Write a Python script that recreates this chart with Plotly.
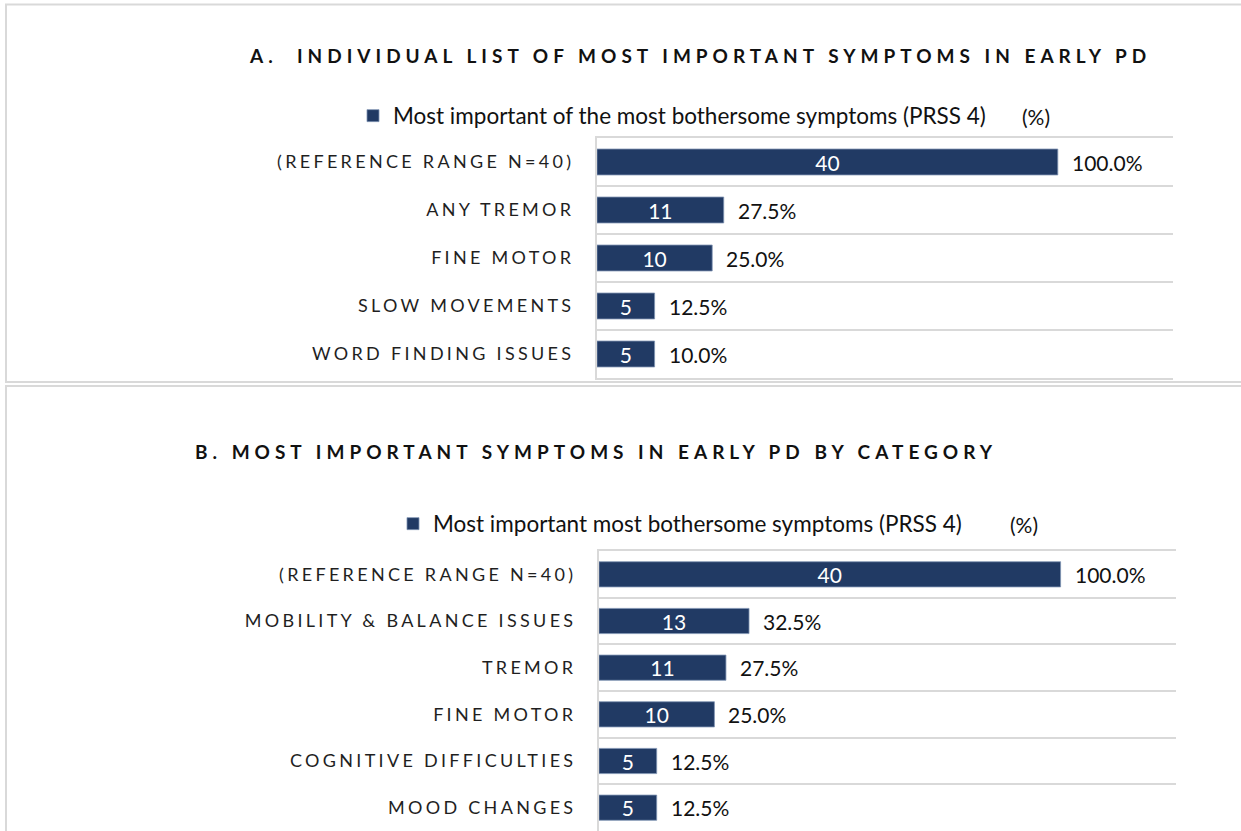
import plotly.graph_objects as go

# ---------- data ----------
cats_a = ["(REFERENCE RANGE N=40)", "ANY TREMOR", "FINE MOTOR", "SLOW MOVEMENTS", "WORD FINDING ISSUES"]
vals_a = [40, 11, 10, 5, 5]
pct_a = ["100.0%", "27.5%", "25.0%", "12.5%", "10.0%"]

cats_b = ["(REFERENCE RANGE N=40)", "MOBILITY & BALANCE ISSUES", "TREMOR", "FINE MOTOR",
          "COGNITIVE DIFFICULTIES", "MOOD CHANGES"]
vals_b = [40, 13, 11, 10, 5, 5]
pct_b = ["100.0%", "32.5%", "27.5%", "25.0%", "12.5%", "12.5%"]

title_a = "A.  INDIVIDUAL LIST OF MOST IMPORTANT SYMPTOMS IN EARLY PD"
title_b = "B. MOST IMPORTANT SYMPTOMS IN EARLY PD BY CATEGORY"
series_a = "Most important of the most bothersome symptoms (PRSS 4)"
series_b = "Most important most bothersome symptoms (PRSS 4)"

# ---------- style ----------
W, H = 1241, 831
NAVY = "#213A64"
GRID = "#d9d9d9"
FONT = "Lato"


def px_x(p):
    return p / W


def px_y(p):
    return 1 - p / H


fig = go.Figure()

fig.add_trace(go.Bar(
    x=vals_a, y=cats_a, orientation="h", name=series_a, showlegend=True,
    marker=dict(color=NAVY, line=dict(color="#7f93b3", width=0.8)),
    text=vals_a, textposition="inside", insidetextanchor="middle",
    textangle=0, constraintext="none",
    textfont=dict(family=FONT, size=21, color="white"),
    width=0.54, xaxis="x", yaxis="y", legend="legend",
    hoverinfo="skip",
))
fig.add_trace(go.Bar(
    x=vals_b, y=cats_b, orientation="h", name=series_b, showlegend=True,
    marker=dict(color=NAVY, line=dict(color="#7f93b3", width=0.8)),
    text=vals_b, textposition="inside", insidetextanchor="middle",
    textangle=0, constraintext="none",
    textfont=dict(family=FONT, size=21, color="white"),
    width=0.54, xaxis="x2", yaxis="y2", legend="legend2",
    hoverinfo="skip",
))

axis_x = dict(range=[0, 50], showgrid=False, zeroline=False, showticklabels=False,
              showline=True, mirror=True, linecolor=GRID, linewidth=2, ticks="")
axis_y = dict(type="category", autorange="reversed", tickson="boundaries",
              showgrid=True, gridcolor=GRID, gridwidth=2, showline=True, linecolor=GRID,
              linewidth=2, ticks="", ticklabelstandoff=17,
              tickfont=dict(family=FONT, size=18, color="#1f1f1f"))

# percent labels next to each bar
annotations = []
for c, v, p in zip(cats_a, vals_a, pct_a):
    annotations.append(dict(x=v, y=c, xref="x", yref="y", text=p, showarrow=False,
                            xanchor="left", xshift=12,
                            font=dict(family=FONT, size=21, color="#111111")))
for c, v, p in zip(cats_b, vals_b, pct_b):
    annotations.append(dict(x=v, y=c, xref="x2", yref="y2", text=p, showarrow=False,
                            xanchor="left", xshift=12,
                            font=dict(family=FONT, size=21, color="#111111")))

n_pct = len(annotations)
# panel titles and the "(%)" legend entries
annotations += [
    dict(x=px_x(700), y=px_y(55), xref="paper", yref="paper", text="<b>" + title_a + "</b>",
         xanchor="center", yanchor="middle",
         showarrow=False, font=dict(family=FONT, size=19, color="#111111")),
    dict(x=px_x(596), y=px_y(451), xref="paper", yref="paper", text="<b>" + title_b + "</b>",
         xanchor="center", yanchor="middle",
         showarrow=False, font=dict(family=FONT, size=19, color="#111111")),
    dict(x=px_x(1020), y=px_y(116), xref="paper", yref="paper", text="(%)",
         xanchor="left", yanchor="middle",
         showarrow=False, font=dict(family=FONT, size=21, color="#111111")),
    dict(x=px_x(1008), y=px_y(524), xref="paper", yref="paper", text="(%)",
         xanchor="left", yanchor="middle",
         showarrow=False, font=dict(family=FONT, size=21, color="#111111")),
]

legend_style = dict(orientation="h", xanchor="left", yanchor="middle",
                    font=dict(family=FONT, size=22.5, color="#111111"),
                    bgcolor="rgba(0,0,0,0)", itemclick=False, itemdoubleclick=False)

fig.update_layout(
    width=W, height=H,
    margin=dict(l=0, r=0, t=0, b=0),
    paper_bgcolor="white", plot_bgcolor="white",
    barmode="overlay", showlegend=True,
    xaxis=dict(domain=[px_x(597), px_x(1173)], anchor="y", **axis_x),
    yaxis=dict(domain=[px_y(378), px_y(138)], anchor="x", **axis_y),
    xaxis2=dict(domain=[px_x(599), px_x(1176)], anchor="y2", **axis_x),
    yaxis2=dict(domain=[0, px_y(551)], anchor="x2", **axis_y),
    legend=dict(x=px_x(353), y=px_y(116), **legend_style),
    legend2=dict(x=px_x(393), y=px_y(524), **legend_style),
    annotations=annotations,
    shapes=[
        dict(type="rect", xref="paper", yref="paper", x0=px_x(6), x1=1.01, y0=px_y(382), y1=px_y(4.5),
             line=dict(color=GRID, width=2), layer="below"),
        dict(type="rect", xref="paper", yref="paper", x0=px_x(6), x1=1.01, y0=-0.01, y1=px_y(386),
             line=dict(color=GRID, width=2), layer="below"),
    ],
)

# page margin off, and letter spacing for the category labels and panel titles
spacing_js = """
document.body.style.margin = '0';
var gd = document.getElementById('{plot_id}');
gd.querySelectorAll('.ytick text, .y2tick text').forEach(function(t){ t.style.letterSpacing = '3.3px'; });
gd.querySelectorAll('.annotation').forEach(function(a){
  var i = parseInt(a.getAttribute('data-index'));
  if (i === %d || i === %d) {
    a.querySelectorAll('text').forEach(function(t){ t.style.letterSpacing = '5px'; });
  }
});
""" % (n_pct, n_pct + 1)

fig.write_html("out.html", post_script=spacing_js, config={"displayModeBar": False})
